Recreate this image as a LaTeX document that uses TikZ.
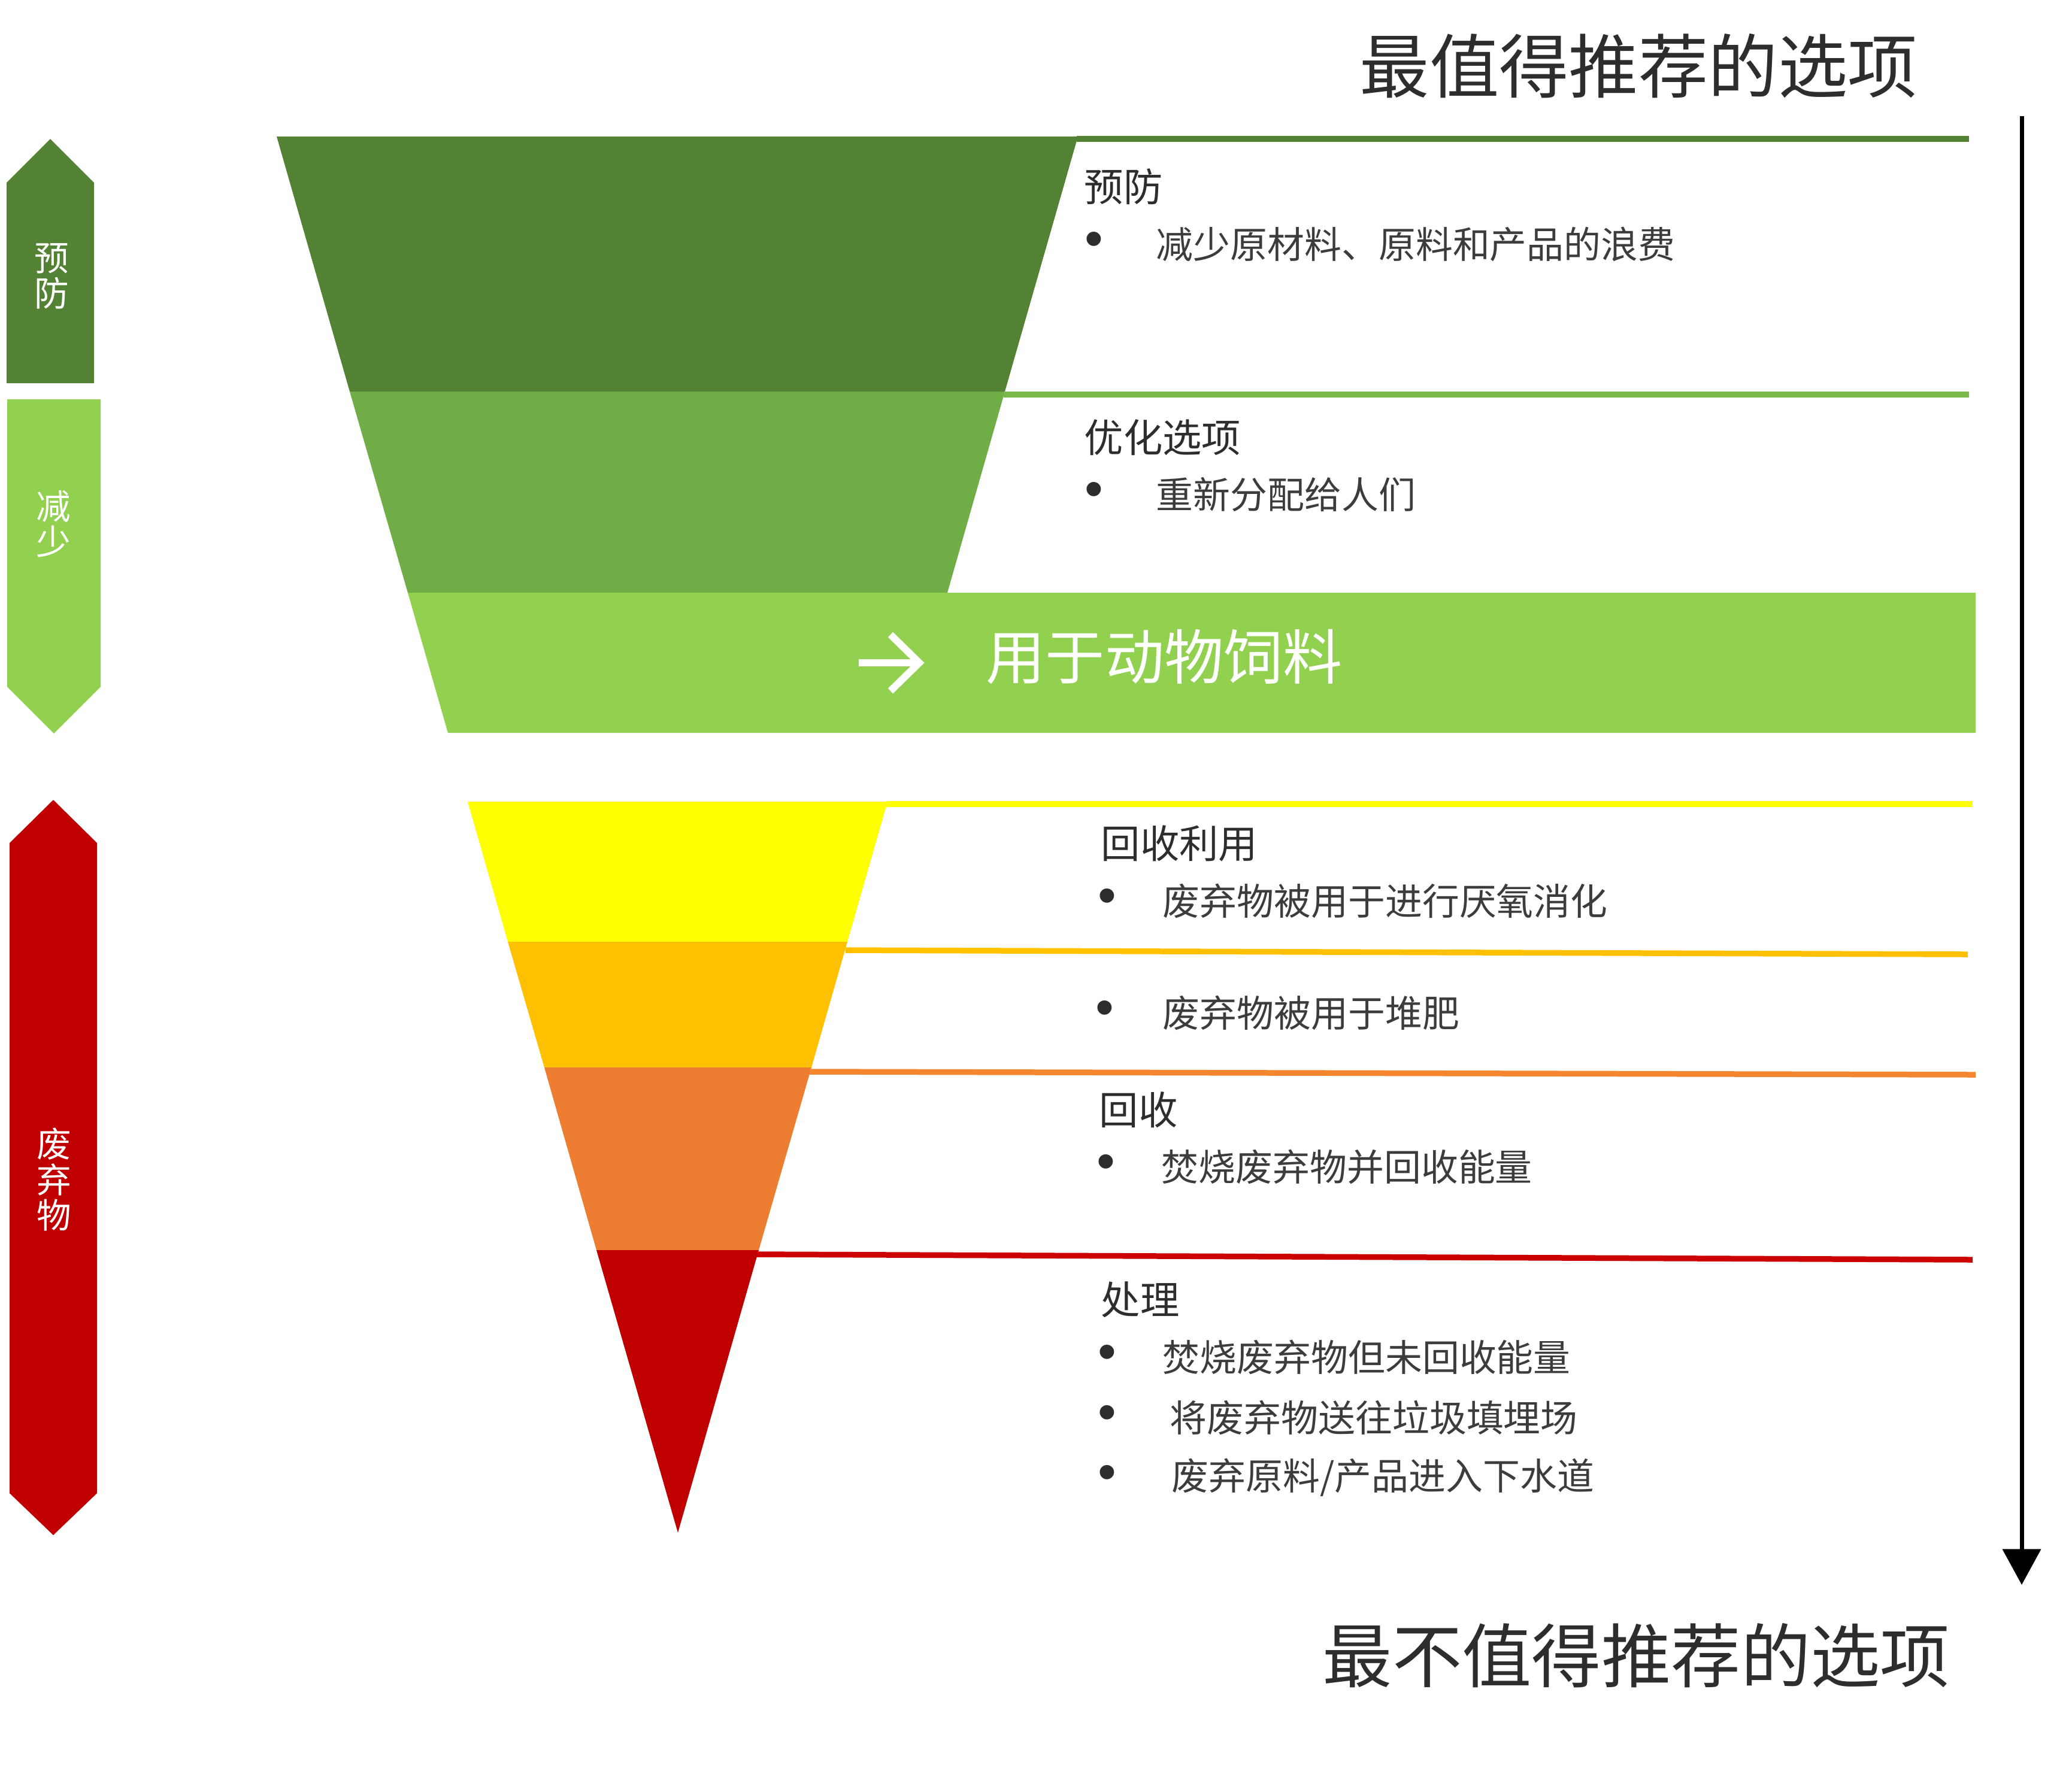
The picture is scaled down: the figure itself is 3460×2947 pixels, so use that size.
\documentclass[tikz,border=0pt]{standalone}
\usepackage{fontspec}
\usepackage{tikz}
\usetikzlibrary{arrows.meta,positioning}
\usepackage{xcolor}
\newfontfamily\cjk{Noto Sans CJK SC}
\newfontfamily\bulletfont{Liberation Sans}
\definecolor{darkgreen}{RGB}{84,130,53}
\definecolor{midgreen}{RGB}{112,173,71}
\definecolor{linegreen}{RGB}{122,184,74}
\definecolor{lightgreen}{RGB}{146,208,80}
\definecolor{wasteyellow}{RGB}{255,255,0}
\definecolor{wastegold}{RGB}{255,192,0}
\definecolor{wasteorange}{RGB}{237,125,49}
\definecolor{lineorange}{RGB}{244,134,47}
\definecolor{wastered}{RGB}{192,0,0}
\definecolor{linered}{RGB}{204,0,0}
\definecolor{textgray}{RGB}{60,60,60}
\definecolor{headgray}{RGB}{45,45,45}

\begin{document}
\begin{tikzpicture}[x=0.01cm, y=-0.01cm,
    tag/.style={font=\cjk\fontsize{16.4}{16.8}\selectfont, text=white, align=center, inner sep=0pt},
    head/.style={font=\cjk\fontsize{18.6}{20}\selectfont, text=headgray, anchor=west, inner sep=0pt},
    item/.style={font=\cjk\fontsize{17.6}{20}\selectfont, text=textgray, anchor=west, inner sep=0pt},
    bul/.style={font=\bulletfont\fontsize{25}{26}\selectfont, text=headgray, inner sep=0pt},
    title/.style={font=\cjk\fontsize{33.1}{36}\selectfont, text=headgray, anchor=west, inner sep=0pt},
    sep/.style={line width=2.7pt}
]
\useasboundingbox (0,0) rectangle (3460,2947);

% left tags
\fill[darkgreen] (11,305) -- (84,232) -- (157,305) -- (157,640) -- (11,640) -- cycle;
\node[tag] (tprev) at (86,461) {预\\防};
\fill[lightgreen] (12,667) -- (168,667) -- (168,1147) -- (90,1225) -- (12,1147) -- cycle;
\node[tag] (treduce) at (89,875) {减\\少};
\fill[wastered] (16,1408) -- (89,1336) -- (162,1408) -- (162,2494) -- (89,2564) -- (16,2494) -- cycle;
\node[tag] (twaste) at (90,1970) {废\\弃\\物};

% funnel, upper part
\fill[darkgreen] (462,228) -- (1800,228) -- (1678,654) -- (584,654) -- cycle;
\fill[midgreen] (584,654) -- (1678,654) -- (1582,990) -- (681,990) -- cycle;
\fill[lightgreen] (681,990) -- (3299,990) -- (3299,1224) -- (748,1224) -- cycle;

% funnel, lower part
\fill[wasteyellow] (781,1339) -- (1482,1339) -- (1415,1573) -- (848,1573) -- cycle;
\fill[wastegold] (848,1573) -- (1415,1573) -- (1355,1783) -- (909,1783) -- cycle;
\fill[wasteorange] (909,1783) -- (1355,1783) -- (1267,2088) -- (996,2088) -- cycle;
\fill[wastered] (996,2088) -- (1267,2088) -- (1132,2560) -- cycle;

% separator lines
\coordinate (s1) at (1798,232);
\coordinate (s2) at (1676,659);
\coordinate (s3) at (1480,1343);
\coordinate (s4) at (1412,1587);
\coordinate (s5) at (1352,1790);
\coordinate (s6) at (1263,2095);
\draw[sep, darkgreen] (s1) -- (3288,232);
\draw[sep, linegreen] (s2) -- (3288,659);
\draw[sep, wasteyellow] (s3) -- (3294,1343);
\draw[sep, wastegold] (s4) -- (3286,1594);
\draw[sep, lineorange] (s5) -- (3299,1795);
\draw[sep, linered] (s6) -- (3294,2104);

% animal feed band
\draw[white, line width=3.4pt] (1434,1107) -- (1528,1107);
\draw[white, line width=3.4pt] (1487,1060) -- (1535,1107) -- (1487,1154);
\node[font=\cjk\fontsize{28.2}{30}\selectfont, text=white, anchor=west, inner sep=0pt] (feed) at (1646,1097) {用于动物饲料};

% headings and bullets
\node[head] (prev) at (1810,312) {预防};
\node[bul] (b1) at (1827,408) {•};
\node[item, right=0.87cm of b1] (i1) {减少原材料、原料和产品的浪费};

\node[head] (opt) at (1810,731) {优化选项};
\node[bul] (b2) at (1827,826) {•};
\node[item, right=0.87cm of b2] (i2) {重新分配给人们};

\node[head] (recyc) at (1838,1409) {回收利用};
\node[bul] (b3) at (1849,1505) {•};
\node[item, right=0.76cm of b3] (i3) {废弃物被用于进行厌氧消化};
\node[bul] (b4) at (1845,1692) {•};
\node[item, right=0.8cm of b4] (i4) {废弃物被用于堆肥};

\node[head] (recov) at (1835,1854) {回收};
\node[bul] (b5) at (1847,1949) {•};
\node[item, right=0.76cm of b5] (i5) {焚烧废弃物并回收能量};

\node[head] (disp) at (1838,2171) {处理};
\node[bul] (b6) at (1849,2267) {•};
\node[item, right=0.76cm of b6] (i6) {焚烧废弃物但未回收能量};
\node[bul] (b7) at (1849,2368) {•};
\node[item, right=0.88cm of b7] (i7) {将废弃物送往垃圾填埋场};
\node[bul] (b8) at (1849,2468) {•};
\node[item, right=0.91cm of b8] (i8) {废弃原料/产品进入下水道};

% ranking arrow
\coordinate (topend) at (3376,194);
\coordinate (botend) at (3376,2647);
\draw[-{Triangle[length=17pt,width=18pt]}, line width=2pt] (topend) -- (botend);
\node[title] (best) at (2270,110) {最值得推荐的选项};
\node[title] (worst) at (2208,2765) {最不值得推荐的选项};

\end{tikzpicture}
\end{document}
